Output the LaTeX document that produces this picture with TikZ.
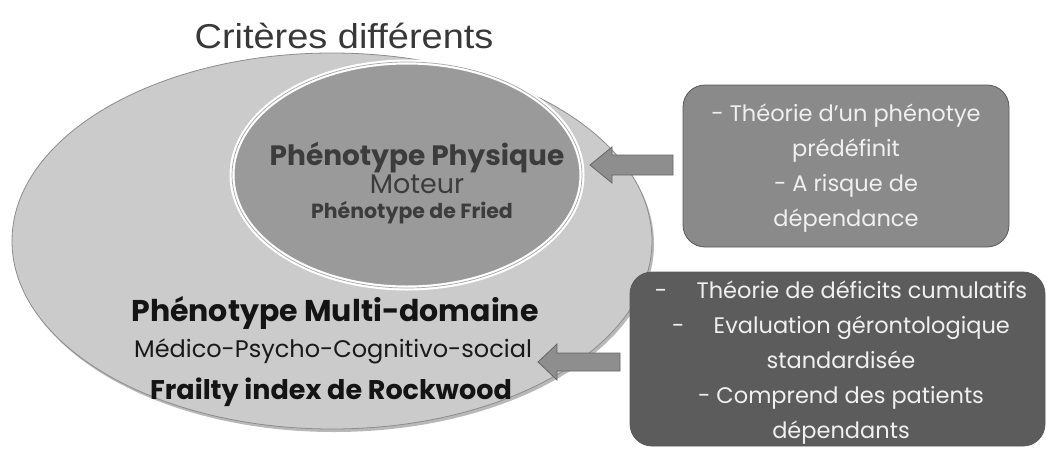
\documentclass[tikz,border=0pt]{standalone}
\usepackage{graphicx}
\usepackage{fontspec}
\setmainfont{Poppins}
\newfontfamily\titlefont{Liberation Sans}
\usetikzlibrary{shapes.geometric}
\definecolor{outerfill}{HTML}{CBCBCB}
\definecolor{innerfill}{HTML}{9A9A9A}
\definecolor{boxlight}{HTML}{8A8A8A}
\definecolor{boxdark}{HTML}{5C5C5C}
\definecolor{arrowfill}{HTML}{8E8E8E}
\definecolor{inktext}{HTML}{3C3C3C}
\tikzset{
  zone/.style={ellipse, inner sep=0pt},
  label/.style={anchor=base, inner sep=0pt},
  infobox/.style={rounded corners=22pt, draw=black!65, line width=0.8pt},
  boxtext/.style={text=white!94!black, align=center, font=\fontsize{22.5}{35}\selectfont},
  blockarrow/.style={fill=arrowfill, draw=black!60, line width=0.8pt, line join=miter},
}
\begin{document}
\begin{tikzpicture}[x=1pt,y=-1pt]
\useasboundingbox (0,0) rectangle (1049,448);
% title
\node[label, font=\titlefont\fontsize{34.5}{38}\selectfont, text=black!78] (title) at (344,48) {\scalebox{1.1}[1]{Critères différents}};
% outer ellipse (multi-domain) with a soft shadow
\node[zone, fill=black!28, minimum width=640pt, minimum height=376pt] (outershadow) at (334,244) {};
\node[zone, fill=outerfill, draw=black!45, line width=0.8pt, minimum width=640pt, minimum height=376pt] (outer) at (332,241) {};
% inner ellipse (physical) with a white double rim
\node[zone, fill=innerfill, draw=white, line width=5pt, minimum width=350pt, minimum height=226pt] (inner) at (407,175) {};
\node[zone, draw=black!35, line width=0.7pt, minimum width=350pt, minimum height=226pt] (innerrim) at (407,175) {};
% texts of the inner ellipse
\node[label, font=\bfseries\fontsize{28}{30}\selectfont, text=inktext] (phys) at (417,165) {Phénotype Physique};
\node[label, font=\fontsize{27}{30}\selectfont, text=inktext] (mot) at (417,193) {Moteur};
\node[label, font=\bfseries\fontsize{20.5}{22}\selectfont, text=inktext] (fried) at (412,218) {Phénotype de Fried};
% texts of the outer ellipse
\node[label, font=\bfseries\fontsize{30}{32}\selectfont, text=black!92] (multi) at (335,321) {Phénotype Multi-domaine};
\node[label, font=\fontsize{24}{26}\selectfont, text=black!90] (medico) at (333,357) {Médico-Psycho-Cognitivo-social};
\node[label, font=\bfseries\fontsize{27}{30}\selectfont, text=black!92] (frail) at (331,399) {Frailty index de Rockwood};
% information boxes
\draw[infobox, fill=boxlight] (683,85) rectangle (1009,247);
\node[boxtext] (b1) at (846,168) {- Théorie d’un phénotye\\ prédéfinit\\ - A risque de\\ dépendance};
\draw[infobox, fill=boxdark] (630,272) rectangle (1045,446);
\node[boxtext] (b2) at (841,363) {-\hspace{1.3em}Théorie de déficits cumulatifs\\ -\hspace{1.3em}Evaluation gérontologique\\ standardisée\\ - Comprend des patients\\ dépendants};
% block arrows
\coordinate (t1) at (590,165);
\draw[blockarrow] (t1) -- ++(22,-18) -- ++(0,8) -- (673,155) -- (673,175) -- (612,175) -- ++(0,8) -- cycle;
\coordinate (t2) at (538,362);
\draw[blockarrow] (t2) -- ++(19,-18) -- ++(0,9) -- (620,353) -- (620,371) -- (557,371) -- ++(0,9) -- cycle;
\end{tikzpicture}
\end{document}
